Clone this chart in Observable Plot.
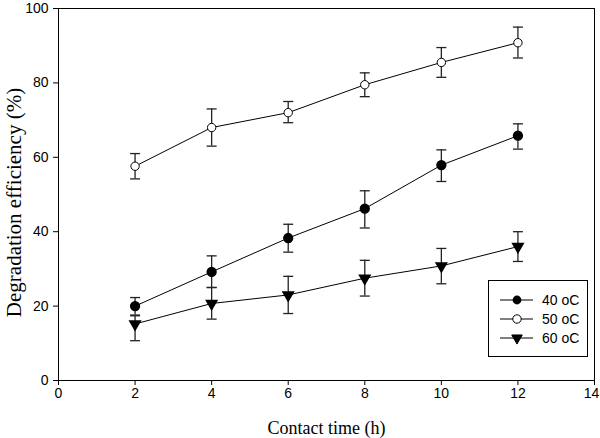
<!DOCTYPE html>
<html><head><meta charset="utf-8">
<script src="https://cdn.jsdelivr.net/npm/d3@7"></script>
<script src="https://cdn.jsdelivr.net/npm/@observablehq/plot@0.6"></script>
<style>body{margin:0;background:#fff}</style>
</head><body><div id="chart"></div>
<script>
const times = [2, 4, 6, 8, 10, 12];
const seriesNames = ["40 oC", "50 oC", "60 oC"];
const eff40 = [20.0, 29.2, 38.3, 46.2, 57.9, 65.8];
const lo40  = [17.6, 25.0, 34.5, 41.0, 53.5, 62.2];
const hi40  = [22.3, 33.5, 42.0, 51.0, 62.0, 69.0];
const eff50 = [57.6, 68.0, 72.0, 79.5, 85.5, 90.8];
const lo50  = [54.2, 63.0, 69.3, 76.3, 81.5, 86.7];
const hi50  = [61.0, 73.0, 75.0, 82.7, 89.5, 95.0];
const eff60 = [15.2, 20.7, 23.0, 27.5, 30.8, 36.0];
const lo60  = [10.7, 16.5, 18.0, 22.7, 26.0, 32.0];
const hi60  = [17.4, 25.0, 28.0, 32.3, 35.5, 40.0];
const xTicks = [0, 2, 4, 6, 8, 10, 12, 14];
const yTicks = [0, 20, 40, 60, 80, 100];
const xLabel = "Contact time (h)";
const yLabel = "Degradation efficiency (%)";

const effs = [eff40, eff50, eff60], los = [lo40, lo50, lo60], his = [hi40, hi50, hi60];
const data = [];
seriesNames.forEach((s, k) => times.forEach((t, i) =>
  data.push({series: s, t, v: effs[k][i], lo: los[k][i], hi: his[k][i]})));

const capSymbol = {draw(ctx) { ctx.moveTo(-5, 0); ctx.lineTo(5, 0); }};
const caps = data.flatMap(d => [{t: d.t, y: d.lo}, {t: d.t, y: d.hi}]);
const serif = "'Liberation Serif', 'Times New Roman', serif";
const sans = "'Liberation Sans', Arial, sans-serif";
const lastX = xTicks[xTicks.length - 1];

const plot = Plot.plot({
  width: 600, height: 438,
  marginLeft: 58, marginRight: 6, marginTop: 8, marginBottom: 58,
  x: {domain: [0, 14]},
  y: {domain: [0, 100]},
  style: {fontFamily: sans, fontSize: "14px", color: "#000", background: "#fff"},
  marks: [
    Plot.frame({stroke: "#000", strokeWidth: 1}),
    Plot.axisX({ticks: xTicks, tickSize: 5, tickPadding: 3, label: null, fontSize: 14,
                tickFormat: d => d === lastX ? "" : String(d)}),
    Plot.axisX({ticks: [lastX], tickSize: 0, tickPadding: 8, dx: -3, label: null, fontSize: 14}),
    Plot.axisY({ticks: yTicks, tickSize: 5, tickPadding: 5, label: null, fontSize: 14}),
    Plot.text([xLabel], {frameAnchor: "bottom", dy: 53, textAnchor: "middle", fontFamily: serif, fontSize: 18}),
    Plot.text([yLabel], {frameAnchor: "left", dx: -44, dy: 8, textAnchor: "middle", rotate: -90, fontFamily: serif, fontSize: 21}),
    Plot.ruleX(data, {x: "t", y1: "lo", y2: "hi", stroke: "#222", strokeWidth: 1.3}),
    Plot.dot(caps, {x: "t", y: "y", symbol: capSymbol, stroke: "#222", strokeWidth: 1.3, fill: "none"}),
    Plot.line(data, {x: "t", y: "v", z: "series", stroke: "#000", strokeWidth: 1}),
    Plot.dot(data.filter(d => d.series === "40 oC"), {x: "t", y: "v", r: 4.4, fill: "#000", stroke: "#000"}),
    Plot.dot(data.filter(d => d.series === "50 oC"), {x: "t", y: "v", r: 4.2, fill: "#fff", stroke: "#000", strokeWidth: 1}),
    Plot.dot(data.filter(d => d.series === "60 oC"), {x: "t", y: "v", symbol: "triangle", r: 3.9, rotate: 180, fill: "#000", stroke: "#000"})
  ]
});
document.getElementById("chart").append(plot);

// legend inside the plot area
const svg = d3.select(plot);
const g = svg.append("g").attr("font-family", sans).attr("font-size", 14).attr("text-anchor", "start");
g.append("rect").attr("x", 488.5).attr("y", 280.5).attr("width", 99).attr("height", 76)
  .attr("fill", "#fff").attr("stroke", "#000").attr("stroke-width", 1);
const rowY = [300, 319, 338];
seriesNames.forEach((s, i) => {
  const y = rowY[i];
  g.append("line").attr("x1", 500).attr("x2", 533).attr("y1", y).attr("y2", y).attr("stroke", "#000");
  if (i === 0) g.append("circle").attr("cx", 517).attr("cy", y).attr("r", 4.4).attr("fill", "#000");
  if (i === 1) g.append("circle").attr("cx", 517).attr("cy", y).attr("r", 4.2).attr("fill", "#fff").attr("stroke", "#000");
  if (i === 2) g.append("path").attr("d", d3.symbol(d3.symbolTriangle, 3.9 * 3.9 * Math.PI)()).attr("transform", `translate(517,${y}) rotate(180)`).attr("fill", "#000").attr("stroke", "#000");
  g.append("text").attr("x", 542).attr("y", y).attr("dy", "0.35em").attr("text-anchor", "start").text(s);
});
</script>
</body></html>
